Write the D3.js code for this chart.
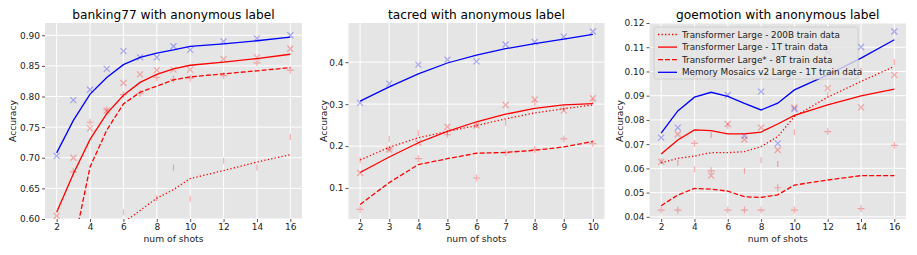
<!DOCTYPE html>
<html>
<head>
<meta charset="utf-8">
<script src="https://cdn.jsdelivr.net/npm/d3@7"></script>
<style>
  body { margin: 0; background: #fff; }
  text { font-family: "DejaVu Sans", sans-serif; }
</style>
</head>
<body>
<div id="chart"></div>
<script>
// ---- data ----
const seriesNames = [
  "Transformer Large - 200B train data",
  "Transformer Large - 1T train data",
  "Transformer Large* - 8T train data",
  "Memory Mosaics v2 Large - 1T train data"
];

// banking77
const bankShots = [2, 3, 4, 5, 6, 7, 8, 9, 10, 12, 14, 16];
const bank200B = [0.50, 0.53, 0.555, 0.575, 0.594, 0.614, 0.634, 0.648, 0.666, 0.679, 0.693, 0.705];
const bank1T = [0.611, 0.674, 0.730, 0.772, 0.802, 0.823, 0.836, 0.845, 0.851, 0.856, 0.862, 0.869];
const bank8T = [0.45, 0.554, 0.685, 0.745, 0.788, 0.807, 0.817, 0.827, 0.832, 0.837, 0.842, 0.847];
const bankMM = [0.708, 0.761, 0.804, 0.831, 0.852, 0.864, 0.871, 0.876, 0.882, 0.886, 0.891, 0.897];
const bank200BPts = [0.52, 0.55, 0.58, 0.57, 0.611, 0.59, 0.634, 0.684, 0.633, 0.695, 0.684, 0.734];
const bank1TPts = [0.605, 0.700, 0.748, 0.777, 0.822, 0.836, 0.843, 0.844, 0.844, 0.861, 0.864, 0.878];
const bank8TPts = [0.55, 0.677, 0.758, 0.778, 0.803, 0.805, 0.831, 0.828, 0.830, 0.834, 0.855, 0.843];
const bankMMPts = [0.703, 0.794, 0.811, 0.845, 0.874, 0.864, 0.864, 0.882, 0.876, 0.890, 0.895, 0.900];

// tacred
const tacShots = [2, 3, 4, 5, 6, 7, 8, 9, 10];
const tac200B = [0.167, 0.197, 0.220, 0.235, 0.249, 0.265, 0.279, 0.289, 0.298];
const tac1T = [0.137, 0.174, 0.208, 0.235, 0.258, 0.276, 0.290, 0.298, 0.301];
const tac8T = [0.061, 0.113, 0.156, 0.170, 0.183, 0.185, 0.190, 0.198, 0.211];
const tacMM = [0.307, 0.341, 0.372, 0.398, 0.417, 0.432, 0.444, 0.455, 0.466];
const tac200BPts = [0.166, 0.217, 0.231, 0.233, 0.250, 0.255, 0.303, 0.290, 0.307];
const tac1TPts = [0.136, 0.192, 0.208, 0.246, 0.249, 0.298, 0.311, 0.285, 0.314];
const tac8TPts = [0.049, 0.193, 0.170, 0.227, 0.124, 0.184, 0.192, 0.217, 0.206];
const tacMMPts = [0.303, 0.349, 0.394, 0.406, 0.402, 0.442, 0.448, 0.461, 0.473];

// goemotion
const goShots = [2, 3, 4, 5, 6, 7, 8, 9, 10, 12, 14, 16];
const go200B = [0.0623, 0.0641, 0.0651, 0.0665, 0.0665, 0.0669, 0.0690, 0.0731, 0.0814, 0.0894, 0.0959, 0.1021];
const go1T = [0.0659, 0.0717, 0.0759, 0.0756, 0.0742, 0.0742, 0.0750, 0.0783, 0.0819, 0.0862, 0.0899, 0.0927];
const go8T = [0.0446, 0.0490, 0.0517, 0.0514, 0.0506, 0.0483, 0.0480, 0.0491, 0.0531, 0.0552, 0.0570, 0.0570];
const goMM = [0.0745, 0.0837, 0.0894, 0.0914, 0.0897, 0.0868, 0.0841, 0.0869, 0.0924, 0.0986, 0.1055, 0.1131];
const go200BPts = [0.0630, 0.0623, 0.0596, 0.0738, 0.0775, 0.0590, 0.0634, 0.0618, 0.0749, 0.0905, 0.1003, 0.1039];
const go1TPts = [0.0627, 0.0741, 0.0980, 0.0570, 0.0783, 0.0719, 0.0768, 0.0676, 0.0852, 0.0931, 0.0852, 0.0986];
const go8TPts = [0.0428, 0.0428, 0.0703, 0.0590, 0.0428, 0.0428, 0.0428, 0.0520, 0.0428, 0.0752, 0.0434, 0.0695];
const goMMPts = [0.0727, 0.0768, 0.1138, 0.0980, 0.0903, 0.0734, 0.0917, 0.0703, 0.0845, 0.1079, 0.1101, 0.1165];

const bankYTicks = [0.60, 0.65, 0.70, 0.75, 0.80, 0.85, 0.90];
const tacYTicks = [0.1, 0.2, 0.3, 0.4];
const goYTicks = [0.04, 0.05, 0.06, 0.07, 0.08, 0.09, 0.10, 0.11, 0.12];
const evenXTicks = [2, 4, 6, 8, 10, 12, 14, 16];
const tacXTicks = [2, 3, 4, 5, 6, 7, 8, 9, 10];

// ---- styles per series ----
const styles = [
  {color: "red", dash: "1.3,2.2", marker: "bar"},
  {color: "red", dash: null, marker: "x"},
  {color: "red", dash: "4.9,2.1", marker: "plus"},
  {color: "blue", dash: null, marker: "x"}
];

const W = 917, H = 255;
const plotTop = 23, plotBottom = 219;

const panels = [
  {title: "banking77 with anonymous label", left: 45, right: 302, xDom: [1.3, 16.7], yDom: [0.6, 0.92],
   xTicks: evenXTicks, yTicks: bankYTicks, yFmt: d3.format(".2f"), ylabOff: 32,
   shots: bankShots, lines: [bank200B, bank1T, bank8T, bankMM], pts: [bank200BPts, bank1TPts, bank8TPts, bankMMPts]},
  {title: "tacred with anonymous label", left: 348.5, right: 604.5, xDom: [1.6, 10.4], yDom: [0.0263, 0.4933],
   xTicks: tacXTicks, yTicks: tacYTicks, yFmt: d3.format(".1f"), ylabOff: 25,
   shots: tacShots, lines: [tac200B, tac1T, tac8T, tacMM], pts: [tac200BPts, tac1TPts, tac8TPts, tacMMPts]},
  {title: "goemotion with anonymous label", left: 649.5, right: 906, xDom: [1.3, 16.7], yDom: [0.0391, 0.1200],
   xTicks: evenXTicks, yTicks: goYTicks, yFmt: d3.format(".2f"), ylabOff: 30, legend: true,
   shots: goShots, lines: [go200B, go1T, go8T, goMM], pts: [go200BPts, go1TPts, go8TPts, goMMPts]}
];

const svg = d3.select("#chart").append("svg")
  .attr("width", W).attr("height", H);

function markerPath(kind, r) {
  if (kind === "x") return `M${-r},${-r}L${r},${r}M${-r},${r}L${r},${-r}`;
  if (kind === "plus") return `M${-r - 0.5},0L${r + 0.5},0M0,${-r - 0.5}L0,${r + 0.5}`;
  return `M0,${-r}L0,${r}`;
}

panels.forEach((p, pi) => {
  const x = d3.scaleLinear().domain(p.xDom).range([p.left, p.right]);
  const y = d3.scaleLinear().domain(p.yDom).range([plotBottom, plotTop]);
  const g = svg.append("g");

  g.append("clipPath").attr("id", "clip" + pi)
    .append("rect").attr("x", p.left).attr("y", plotTop)
    .attr("width", p.right - p.left).attr("height", plotBottom - plotTop);

  g.append("rect")
    .attr("x", p.left).attr("y", plotTop)
    .attr("width", p.right - p.left).attr("height", plotBottom - plotTop)
    .attr("fill", "#e5e5e5");

  // grid
  g.append("g").selectAll("line").data(p.xTicks).join("line")
    .attr("x1", d => x(d)).attr("x2", d => x(d))
    .attr("y1", plotTop).attr("y2", plotBottom)
    .attr("stroke", "white").attr("stroke-width", 1);
  g.append("g").selectAll("line").data(p.yTicks).join("line")
    .attr("x1", p.left).attr("x2", p.right)
    .attr("y1", d => y(d)).attr("y2", d => y(d))
    .attr("stroke", "white").attr("stroke-width", 1);

  // axes
  g.append("g").attr("transform", `translate(0,${plotBottom})`)
    .call(d3.axisBottom(x).tickValues(p.xTicks).tickSize(3).tickPadding(2).tickFormat(d3.format("d")))
    .call(a => a.select(".domain").remove())
    .call(a => a.selectAll(".tick line").attr("stroke", "#555"))
    .call(a => a.selectAll(".tick text").attr("fill", "#222").attr("font-size", "9px")
      .attr("font-family", "DejaVu Sans"));
  g.append("g").attr("transform", `translate(${p.left},0)`)
    .call(d3.axisLeft(y).tickValues(p.yTicks).tickSize(3).tickPadding(2).tickFormat(p.yFmt))
    .call(a => a.select(".domain").remove())
    .call(a => a.selectAll(".tick line").attr("stroke", "#555"))
    .call(a => a.selectAll(".tick text").attr("fill", "#222").attr("font-size", "9px")
      .attr("font-family", "DejaVu Sans"));

  const plot = g.append("g").attr("clip-path", `url(#clip${pi})`);

  // scatter markers
  p.pts.forEach((vals, si) => {
    const st = styles[si];
    plot.append("g").selectAll("path").data(vals.map((v, i) => [p.shots[i], v])).join("path")
      .attr("transform", d => `translate(${x(d[0])},${y(d[1])})`)
      .attr("d", markerPath(st.marker, 3))
      .attr("fill", "none")
      .attr("stroke", st.color)
      .attr("stroke-opacity", 0.3)
      .attr("stroke-width", 1.2);
  });

  // lines
  const line = d3.line().x(d => x(d[0])).y(d => y(d[1]));
  p.lines.forEach((vals, si) => {
    const st = styles[si];
    plot.append("path")
      .datum(vals.map((v, i) => [p.shots[i], v]))
      .attr("d", line)
      .attr("fill", "none")
      .attr("stroke", st.color)
      .attr("stroke-width", 1.3)
      .attr("stroke-dasharray", st.dash);
  });

  // title + labels
  const cx = (p.left + p.right) / 2;
  g.append("text").attr("x", cx).attr("y", 19)
    .attr("text-anchor", "middle").attr("font-size", "12.2px").attr("fill", "#000")
    .text(p.title);
  g.append("text").attr("x", cx).attr("y", 242)
    .attr("text-anchor", "middle").attr("font-size", "9.2px").attr("fill", "#222")
    .text("num of shots");
  g.append("text")
    .attr("transform", `translate(${p.left - p.ylabOff},${(plotTop + plotBottom) / 2}) rotate(-90)`)
    .attr("text-anchor", "middle").attr("dy", "0.35em")
    .attr("font-size", "9.2px").attr("fill", "#222")
    .text("Accuracy");

  if (p.legend) {
    const lx = p.left + 4.5, ly = plotTop + 4;
    const lg = g.append("g");
    lg.append("rect").attr("x", lx).attr("y", ly).attr("width", 204).attr("height", 52)
      .attr("rx", 2).attr("fill", "#e5e5e5").attr("fill-opacity", 0.8)
      .attr("stroke", "#cccccc").attr("stroke-width", 0.8);
    seriesNames.forEach((name, i) => {
      const yy = ly + 7.5 + i * 12.6;
      lg.append("line").attr("x1", lx + 4).attr("x2", lx + 23)
        .attr("y1", yy).attr("y2", yy)
        .attr("stroke", styles[i].color).attr("stroke-width", 1.3)
        .attr("stroke-dasharray", styles[i].dash);
      lg.append("text").attr("x", lx + 28).attr("y", yy).attr("dy", "0.35em")
        .attr("font-size", "8.8px").attr("fill", "#222").text(name);
    });
  }
});
</script>
</body>
</html>
